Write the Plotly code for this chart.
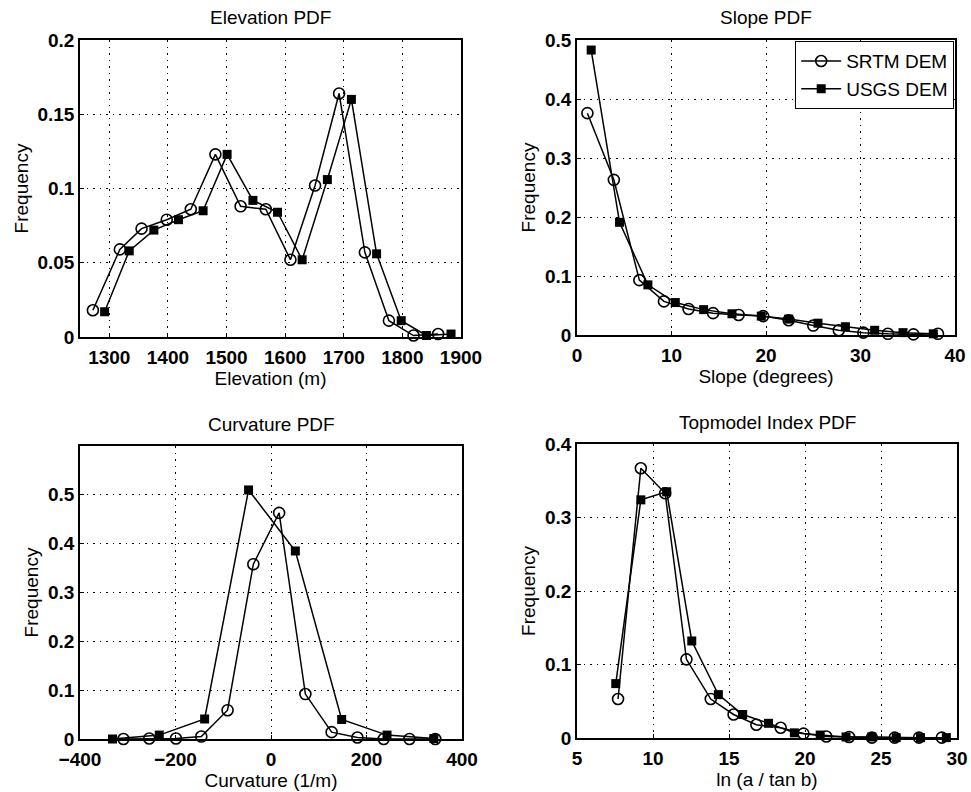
import plotly.graph_objects as go

# ---------------- data ----------------
elev_srtm_x = [1272, 1318, 1355, 1398, 1439, 1481, 1524, 1567, 1609, 1651, 1692, 1736, 1777, 1819, 1861]
elev_srtm_y = [0.018, 0.059, 0.073, 0.079, 0.086, 0.123, 0.088, 0.086, 0.052, 0.102, 0.164, 0.057, 0.011, 0.001, 0.002]
elev_usgs_x = [1292, 1334, 1376, 1418, 1460, 1501, 1545, 1587, 1629, 1672, 1713, 1756, 1798, 1841, 1883]
elev_usgs_y = [0.017, 0.058, 0.072, 0.079, 0.085, 0.123, 0.092, 0.084, 0.052, 0.106, 0.160, 0.056, 0.011, 0.001, 0.002]

slope_srtm_x = [1.1, 3.9, 6.6, 9.2, 11.8, 14.4, 17.1, 19.7, 22.4, 25.0, 27.7, 30.3, 32.9, 35.6, 38.2]
slope_srtm_y = [0.376, 0.263, 0.093, 0.057, 0.044, 0.037, 0.034, 0.032, 0.025, 0.016, 0.008, 0.004, 0.002, 0.001, 0.002]
slope_usgs_x = [1.5, 4.5, 7.5, 10.4, 13.4, 16.4, 19.5, 22.4, 25.5, 28.4, 31.5, 34.5, 37.7]
slope_usgs_y = [0.483, 0.191, 0.085, 0.055, 0.043, 0.036, 0.032, 0.027, 0.020, 0.014, 0.008, 0.004, 0.002]

curv_srtm_x = [-309, -255, -199, -146, -91, -37, 17, 72, 127, 181, 236, 290, 344]
curv_srtm_y = [0.0, 0.001, 0.001, 0.005, 0.059, 0.358, 0.463, 0.092, 0.014, 0.003, 0.0, 0.0, 0.0]
curv_usgs_x = [-332, -234, -139, -47, 51, 148, 243, 341]
curv_usgs_y = [0.0, 0.008, 0.041, 0.510, 0.385, 0.040, 0.008, 0.001]

topo_srtm_x = [7.7, 9.2, 10.8, 12.2, 13.8, 15.3, 16.8, 18.4, 19.9, 21.4, 22.9, 24.4, 25.9, 27.5, 29.0]
topo_srtm_y = [0.053, 0.367, 0.333, 0.107, 0.053, 0.032, 0.018, 0.014, 0.006, 0.002, 0.0014, 0.0005, 0.0005, 0.0005, 0.0005]
topo_usgs_x = [7.55, 9.2, 10.9, 12.55, 14.3, 15.9, 17.6, 19.3, 21.0, 22.7, 24.4, 26.0, 27.6, 29.3]
topo_usgs_y = [0.074, 0.324, 0.335, 0.132, 0.059, 0.032, 0.020, 0.007, 0.004, 0.0014, 0.0014, 0.0005, 0.0005, 0.0005]

titles = ["Elevation PDF", "Slope PDF", "Curvature PDF", "Topmodel Index PDF"]
xtitles = ["Elevation (m)", "Slope (degrees)", "Curvature (1/m)", "ln (a / tan b)"]
series_names = ["SRTM DEM", "USGS DEM"]

xranges = [[1250, 1900], [0, 40], [-400, 400], [5, 30]]
yranges = [[0, 0.2], [0, 0.5], [0, 0.6], [0, 0.4]]
xticks = [[1300, 1400, 1500, 1600, 1700, 1800, 1900], [0, 10, 20, 30, 40],
          [-400, -200, 0, 200, 400], [5, 10, 15, 20, 25, 30]]
yticks = [[0, 0.05, 0.1, 0.15, 0.2], [0, 0.1, 0.2, 0.3, 0.4, 0.5],
          [0, 0.1, 0.2, 0.3, 0.4, 0.5], [0, 0.1, 0.2, 0.3, 0.4]]

# ---------------- layout geometry (window pixels) ----------------
W, H = 971, 792
boxes = [(80, 461, 40, 337), (577, 955, 40, 335), (80, 462, 446, 739), (577, 957, 444, 738)]


def px_x(v):
    return v / W


def px_y(v):
    return 1 - v / H


FONT = "Liberation Sans, Arial, Helvetica, sans-serif"

fig = go.Figure()

data = [
    (elev_srtm_x, elev_srtm_y, elev_usgs_x, elev_usgs_y),
    (slope_srtm_x, slope_srtm_y, slope_usgs_x, slope_usgs_y),
    (curv_srtm_x, curv_srtm_y, curv_usgs_x, curv_usgs_y),
    (topo_srtm_x, topo_srtm_y, topo_usgs_x, topo_usgs_y),
]

for i, (sx, sy, ux, uy) in enumerate(data):
    xa = "x" if i == 0 else f"x{i+1}"
    ya = "y" if i == 0 else f"y{i+1}"
    fig.add_trace(go.Scatter(
        x=sx, y=sy, xaxis=xa, yaxis=ya, mode="lines+markers", name=series_names[0],
        line=dict(color="black", width=1.5),
        marker=dict(symbol="circle-open", size=11, color="black", line=dict(width=1.6)),
        showlegend=(i == 1), cliponaxis=False))
    fig.add_trace(go.Scatter(
        x=ux, y=uy, xaxis=xa, yaxis=ya, mode="lines+markers", name=series_names[1],
        line=dict(color="black", width=1.5),
        marker=dict(symbol="square", size=9, color="black"),
        showlegend=(i == 1), cliponaxis=False))

layout = dict(
    template="none",
    width=W, height=H, paper_bgcolor="white", plot_bgcolor="white",
    margin=dict(l=0, r=0, t=0, b=0, autoexpand=False),
    font=dict(family=FONT, color="black", size=19),
    legend=dict(x=px_x(954), xanchor="right", y=px_y(41), yanchor="top",
                bordercolor="black", borderwidth=1.2, bgcolor="white",
                font=dict(size=19, family=FONT), tracegroupgap=0,
                itemwidth=40),
    annotations=[],
)

for i, (x0, x1, y0, y1) in enumerate(boxes):
    kx = "xaxis" if i == 0 else f"xaxis{i+1}"
    ky = "yaxis" if i == 0 else f"yaxis{i+1}"
    ax_id = "x" if i == 0 else f"x{i+1}"
    ay_id = "y" if i == 0 else f"y{i+1}"
    common = dict(showline=True, linecolor="black", linewidth=1.6, mirror=True,
                  showgrid=True, gridcolor="black", griddash="1.5px,5px", gridwidth=1.2,
                  ticks="inside", ticklen=4, tickcolor="black", zeroline=False,
                  automargin=False, ticklabeloverflow="allow",
                  tickfont=dict(size=19, family=FONT, weight="bold"))
    layout[kx] = dict(common, domain=[px_x(x0), px_x(x1)], anchor=ay_id,
                      range=xranges[i], tickvals=xticks[i], ticklabelstandoff=2,
                      title=dict(text=xtitles[i], font=dict(size=19), standoff=4))
    layout[ky] = dict(common, domain=[px_y(y1), px_y(y0)], anchor=ax_id,
                      range=yranges[i], tickvals=yticks[i],
                      title=dict(text="Frequency", font=dict(size=19), standoff=4))
    layout["annotations"].append(dict(
        text=titles[i], x=px_x((x0 + x1) / 2), y=px_y(y0 - 22), xref="paper", yref="paper",
        showarrow=False, font=dict(size=19, family=FONT), xanchor="center", yanchor="middle"))

fig.update_layout(**layout)
fig.write_html("out.html", config={"displayModeBar": False},
               post_script="document.body.style.margin='0';document.body.style.padding='0';")
